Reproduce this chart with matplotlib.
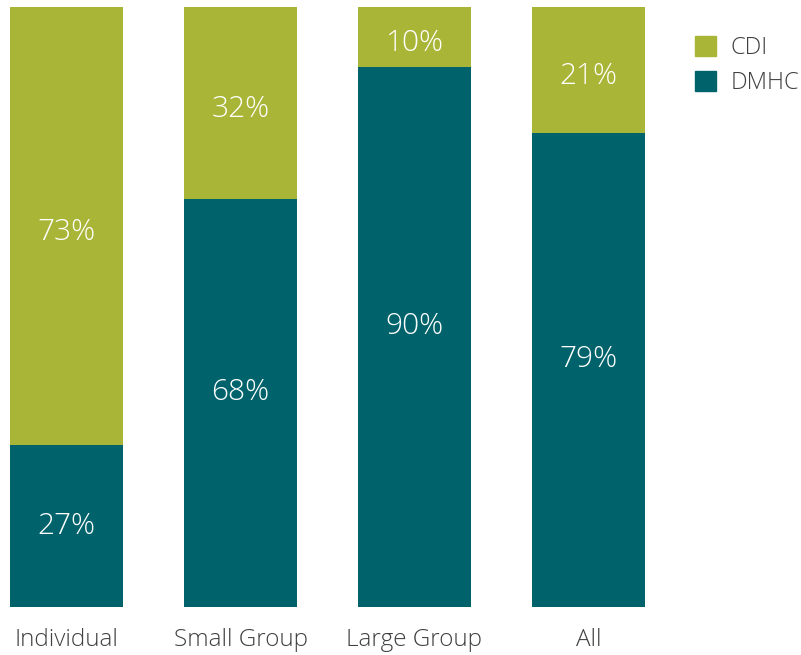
import matplotlib.pyplot as plt
from matplotlib.patches import Patch

categories = ["Individual", "Small Group", "Large Group", "All"]
dmhc = [27, 68, 90, 79]
cdi = [73, 32, 10, 21]

green = "#A9B536"
teal = "#00636C"
grey = "#404040"

plt.rcParams['font.family'] = ['Open Sans', 'DejaVu Sans']
plt.rcParams['font.weight'] = 'light'

fig = plt.figure(figsize=(8.01, 6.55), dpi=100)
ax = fig.add_axes([10 / 801, 48 / 655, 635 / 801, 600 / 655])

x = range(len(categories))
ax.bar(x, dmhc, width=0.65, color=teal)
ax.bar(x, cdi, width=0.65, bottom=dmhc, color=green)

for i in x:
    # DMHC labels sit a little above the middle of their segment
    up = 7.5 if dmhc[i] > 50 else 0
    ax.annotate(f"{dmhc[i]}%", (i, dmhc[i] / 2), xytext=(0, up), textcoords="offset points",
                ha="center", va="center", color="white", fontsize=21.5)
    ax.annotate(f"{cdi[i]}%", (i, dmhc[i] + cdi[i] / 2), xytext=(0, -4.5), textcoords="offset points",
                ha="center", va="center", color="white", fontsize=21.5)

ax.set_xlim(-0.325, 3.325)
ax.set_ylim(0, 100)
ax.set_xticks(list(x))
ax.set_xticklabels(categories, fontsize=17.5, color=grey)
ax.tick_params(axis="x", length=0, pad=15)
ax.set_yticks([])
for s in ax.spines.values():
    s.set_visible(False)

handles = [Patch(color=green, label="CDI"), Patch(color=teal, label="DMHC")]
fig.legend(handles=handles, loc="upper left", bbox_to_anchor=(695 / 801, 1 - 36 / 655),
           frameon=False, fontsize=17, handlelength=0.9, handleheight=0.9,
           handletextpad=0.6, labelspacing=0.48, borderpad=0, borderaxespad=0,
           labelcolor=grey)

fig.savefig("out.png", dpi=100)
